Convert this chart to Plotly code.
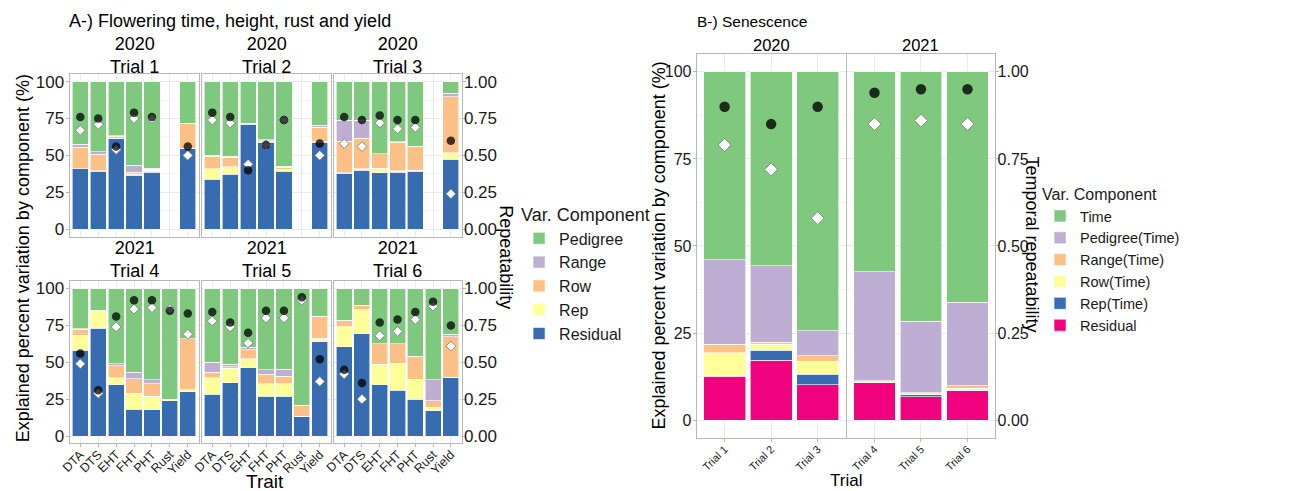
import plotly.graph_objects as go

# ---------------- data: panel A ----------------
traits = ["DTA", "DTS", "EHT", "FHT", "PHT", "Rust", "Yield"]
trials_A = ["Trial 1", "Trial 2", "Trial 3", "Trial 4", "Trial 5", "Trial 6"]
years_A = ["2020", "2020", "2020", "2021", "2021", "2021"]

residual_A = [
    [40.8, 39.2, 61.5, 36.7, 38.7, None, 54.7],
    [34.0, 37.2, 71.2, 59.0, 39.4, None, 59.0],
    [37.8, 40.1, 38.1, 38.7, 39.4, None, 47.3],
    [58.2, 72.9, 34.9, 18.3, 17.9, 23.9, 30.2],
    [28.2, 36.2, 46.3, 27.1, 27.1, 13.2, 63.8],
    [60.4, 69.4, 34.7, 30.9, 24.8, 17.0, 39.6],
]
rep_A = [
    [0.3, 0.3, 0.3, 0.5, 1.3, None, 0.3],
    [7.0, 5.1, 0.2, 0.3, 1.1, None, 0.3],
    [0.5, 0.7, 3.3, 0.9, 0.7, None, 4.5],
    [10.0, 11.7, 4.7, 10.8, 9.2, 0.7, 1.3],
    [11.4, 9.9, 6.0, 8.2, 8.2, 0.2, 2.4],
    [13.6, 16.1, 14.1, 18.5, 13.7, 2.7, 0.2],
]
row_A = [
    [14.3, 11.4, 1.2, 1.3, 0.5, None, 16.6],
    [8.5, 6.3, 0.3, 0.6, 1.6, None, 9.7],
    [21.2, 20.9, 9.7, 19.4, 15.8, None, 38.1],
    [4.3, 0.6, 8.1, 9.6, 8.2, 0.2, 34.3],
    [3.6, 0.9, 6.3, 6.5, 5.2, 7.4, 15.0],
    [4.3, 2.9, 13.8, 13.2, 15.4, 4.2, 27.5],
]
range_A = [
    [2.3, 1.6, 0.3, 4.7, 0.7, None, 0.3],
    [0.5, 0.7, 0.2, 0.7, 0.7, None, 1.3],
    [14.4, 12.2, 0.2, 0.2, 0.2, None, 2.2],
    [0.1, 0.1, 1.3, 4.7, 3.0, 0.1, 0.1],
    [6.9, 1.8, 1.6, 3.2, 4.9, 0.1, 0.1],
    [0.1, 0.1, 0.1, 0.1, 0.1, 14.4, 1.8],
]
pedigree_A = [
    [42.3, 47.5, 36.7, 56.8, 58.8, None, 28.1],
    [50.0, 50.7, 28.1, 39.4, 57.2, None, 29.7],
    [26.1, 26.1, 48.7, 40.8, 43.9, None, 7.9],
    [27.4, 14.7, 51.0, 56.6, 61.7, 75.1, 34.1],
    [49.9, 51.2, 39.8, 55.0, 54.6, 79.1, 18.7],
    [21.6, 11.5, 37.3, 37.3, 46.0, 61.7, 30.9],
]
repeat_circle_A = [
    [0.76, 0.75, 0.56, 0.79, 0.76, None, 0.56],
    [0.79, 0.76, 0.40, 0.57, 0.74, None, 0.58],
    [0.76, 0.74, 0.77, 0.74, 0.74, None, 0.60],
    [0.56, 0.31, 0.81, 0.92, 0.92, 0.85, 0.83],
    [0.84, 0.77, 0.70, 0.85, 0.85, 0.94, 0.52],
    [0.45, 0.36, 0.77, 0.79, 0.84, 0.91, 0.75],
]
repeat_diamond_A = [
    [0.67, 0.71, 0.54, 0.75, 0.75, None, 0.50],
    [0.74, 0.72, 0.44, 0.57, 0.74, None, 0.50],
    [0.58, 0.56, 0.72, 0.68, 0.69, None, 0.24],
    [0.49, 0.29, 0.74, 0.86, 0.87, 0.86, 0.69],
    [0.78, 0.74, 0.63, 0.80, 0.80, 0.92, 0.37],
    [0.42, 0.25, 0.68, 0.71, 0.79, 0.88, 0.61],
]
components_A = ["Residual", "Rep", "Row", "Range", "Pedigree"]  # bottom -> top
colors_A = ["#386CB0", "#FFFF99", "#FDC086", "#BEAED4", "#7FC97F"]
values_A = [residual_A, rep_A, row_A, range_A, pedigree_A]

# ---------------- data: panel B ----------------
trials_B = ["Trial 1", "Trial 2", "Trial 3", "Trial 4", "Trial 5", "Trial 6"]
years_B = ["2020", "2020", "2020", "2021", "2021", "2021"]
residual_B = [12.6, 17.2, 10.1, 10.7, 6.7, 8.5]
rep_B = [0.2, 2.9, 3.1, 0.1, 0.6, 0.1]
row_B = [6.6, 1.7, 3.7, 0.2, 0.2, 0.6]
range_B = [2.4, 0.6, 1.6, 0.3, 0.4, 0.6]
pedigree_B = [24.2, 21.9, 7.1, 31.3, 20.5, 24.1]
time_B = [54.0, 55.7, 74.4, 57.4, 71.6, 66.1]
repeat_circle_B = [0.90, 0.85, 0.90, 0.94, 0.95, 0.95]
repeat_diamond_B = [0.79, 0.72, 0.58, 0.85, 0.86, 0.85]
components_B = ["Residual", "Rep(Time)", "Row(Time)", "Range(Time)", "Pedigree(Time)", "Time"]
colors_B = ["#F0027F", "#386CB0", "#FFFF99", "#FDC086", "#BEAED4", "#7FC97F"]
values_B = [residual_B, rep_B, row_B, range_B, pedigree_B, time_B]

# ---------------- styling ----------------
W, H = 1307, 491
FA = "Liberation Sans, Arial, sans-serif"
FB = "Liberation Sans, Arial, sans-serif"
BORDER = "#B8B8B8"
GRID = "#EBEBEB"
MINOR = "#F5F5F5"
TXT = "#1a1a1a"


def fx(x):
    return x / W


def fy(y):
    return 1 - y / H


fig = go.Figure()
layout = dict(
    width=W, height=H, margin=dict(l=0, r=0, t=0, b=0),
    paper_bgcolor="white", plot_bgcolor="white",
    barmode="stack", showlegend=True,
)

# panel A subplot frames (pixel boxes)
colsA = [(60, 190), (193, 323), (326, 455)]
rowsA = [(73, 237), (282, 446)]

for i, trial in enumerate(trials_A):
    r, c = divmod(i, 3)
    xa, ya, yr = i + 1, i + 1, i + 7
    x0, x1 = colsA[c]
    y0, y1 = rowsA[r]
    bottom = r == 1
    layout[f"xaxis{xa}"] = dict(
        domain=[fx(x0), fx(x1)], anchor=f"y{ya}", type="category",
        categoryorder="array", categoryarray=traits, range=[-0.6, 6.6],
        showline=True, mirror=True, linecolor=BORDER, linewidth=1,
        showgrid=True, gridcolor=GRID, gridwidth=1, zeroline=False,
        ticks="outside" if bottom else "", ticklen=3, tickcolor=BORDER,
        showticklabels=bottom, tickangle=-45, ticklabelstandoff=-5,
        tickfont=dict(size=12.5, family=FA, color=TXT),
    )
    layout[f"yaxis{ya}"] = dict(
        domain=[fy(y1), fy(y0)], anchor=f"x{xa}", range=[-5, 105],
        tickvals=[0, 25, 50, 75, 100],
        showline=True, mirror=True, linecolor=BORDER, linewidth=1,
        showgrid=True, gridcolor=GRID, gridwidth=1, zeroline=False,
        minor=dict(dtick=12.5, showgrid=True, gridcolor=MINOR, gridwidth=0.6),
        ticks="outside" if c == 0 else "", ticklen=3, tickcolor=BORDER,
        ticklabelstandoff=-2,
        showticklabels=c == 0, tickfont=dict(size=17, family=FA, color=TXT),
    )
    layout[f"yaxis{yr}"] = dict(
        overlaying=f"y{ya}", anchor=f"x{xa}", side="right", range=[-0.05, 1.05],
        tickvals=[0, 0.25, 0.5, 0.75, 1.0],
        ticktext=["0.00", "0.25", "0.50", "0.75", "1.00"],
        showgrid=False, zeroline=False, showline=False,
        ticks="outside" if c == 2 else "", ticklen=3, tickcolor=BORDER,
        ticklabelstandoff=-5,
        showticklabels=c == 2, tickfont=dict(size=17, family=FA, color=TXT),
    )
    for k, comp in enumerate(components_A):
        fig.add_trace(go.Bar(
            x=traits, y=values_A[k][i], name=comp, width=0.9,
            marker=dict(color=colors_A[k], line=dict(color="white", width=0.6)),
            xaxis=f"x{xa}", yaxis=f"y{ya}", legend="legend",
            legendgroup=comp, showlegend=(i == 0), legendrank=100 - k,
            hovertemplate=f"{trial} %{{x}}<br>{comp}: %{{y}}%<extra></extra>",
        ))
    fig.add_trace(go.Scatter(
        x=traits, y=repeat_diamond_A[i], mode="markers", name="Repeatability (diamond)",
        marker=dict(symbol="diamond", size=7.5, color="white", line=dict(color="#777777", width=0.8)),
        xaxis=f"x{xa}", yaxis=f"y{yr}", showlegend=False,
    ))
    fig.add_trace(go.Scatter(
        x=traits, y=repeat_circle_A[i], mode="markers", name="Repeatability (circle)",
        marker=dict(symbol="circle", size=8.5, color="black", opacity=0.75, line=dict(width=0)),
        xaxis=f"x{xa}", yaxis=f"y{yr}", showlegend=False,
    ))

# panel B subplots
colsB = [(692, 842), (843, 993)]
rowB = (53, 440)
years_unique_B = ["2020", "2021"]
for j, yr_label in enumerate(years_unique_B):
    xa, ya, yr = 7 + j, 13 + j, 15 + j
    x0, x1 = colsB[j]
    idx = [n for n, yv in enumerate(years_B) if yv == yr_label]
    cats = [trials_B[n] for n in idx]
    layout[f"xaxis{xa}"] = dict(
        domain=[fx(x0), fx(x1)], anchor=f"y{ya}", type="category",
        categoryorder="array", categoryarray=cats, range=[-0.6, 2.6],
        showline=True, mirror=True, linecolor=BORDER, linewidth=1,
        showgrid=True, gridcolor=GRID, zeroline=False,
        ticks="outside", ticklen=3, tickcolor=BORDER, tickangle=-45,
        ticklabelstandoff=-3,
        tickfont=dict(size=11, family=FB, color=TXT),
    )
    layout[f"yaxis{ya}"] = dict(
        domain=[fy(rowB[1]), fy(rowB[0])], anchor=f"x{xa}", range=[-5, 105],
        tickvals=[0, 25, 50, 75, 100],
        showline=True, mirror=True, linecolor=BORDER, linewidth=1,
        showgrid=True, gridcolor=GRID, zeroline=False,
        minor=dict(dtick=12.5, showgrid=True, gridcolor=MINOR, gridwidth=0.6),
        ticks="outside" if j == 0 else "", ticklen=3, tickcolor=BORDER,
        ticklabelstandoff=-2,
        showticklabels=j == 0, tickfont=dict(size=16, family=FB, color=TXT),
    )
    layout[f"yaxis{yr}"] = dict(
        overlaying=f"y{ya}", anchor=f"x{xa}", side="right", range=[-0.05, 1.05],
        tickvals=[0, 0.25, 0.5, 0.75, 1.0],
        ticktext=["0.00", "0.25", "0.50", "0.75", "1.00"],
        showgrid=False, zeroline=False, showline=False,
        ticks="outside" if j == 1 else "", ticklen=3, tickcolor=BORDER,
        ticklabelstandoff=-5,
        showticklabels=j == 1, tickfont=dict(size=16, family=FB, color=TXT),
    )
    for k, comp in enumerate(components_B):
        fig.add_trace(go.Bar(
            x=cats, y=[values_B[k][n] for n in idx], name=comp, width=0.9,
            marker=dict(color=colors_B[k], line=dict(color="white", width=0.6)),
            xaxis=f"x{xa}", yaxis=f"y{ya}", legend="legend2",
            legendgroup="B" + comp, showlegend=(j == 0), legendrank=100 - k,
            hovertemplate=f"%{{x}}<br>{comp}: %{{y}}%<extra></extra>",
        ))
    fig.add_trace(go.Scatter(
        x=cats, y=[repeat_diamond_B[n] for n in idx], mode="markers",
        name="Temporal repeatability (diamond)",
        marker=dict(symbol="diamond", size=10, color="white", line=dict(color="#777777", width=0.8)),
        xaxis=f"x{xa}", yaxis=f"y{yr}", showlegend=False,
    ))
    fig.add_trace(go.Scatter(
        x=cats, y=[repeat_circle_B[n] for n in idx], mode="markers",
        name="Temporal repeatability (circle)",
        marker=dict(symbol="circle", size=10.5, color="black", opacity=0.78, line=dict(width=0)),
        xaxis=f"x{xa}", yaxis=f"y{yr}", showlegend=False,
    ))

# legends
layout["legend"] = dict(
    x=fx(513), y=fy(198), xanchor="left", yanchor="top",
    title=dict(text="Var. Component", font=dict(size=18, family=FA, color=TXT)),
    font=dict(size=16, family=FA, color=TXT), bgcolor="rgba(0,0,0,0)",
    itemwidth=30, tracegroupgap=0,
)
layout["legend2"] = dict(
    x=fx(1038), y=fy(179), xanchor="left", yanchor="top",
    title=dict(text="Var. Component", font=dict(size=16, family=FB, color=TXT)),
    font=dict(size=14.5, family=FB, color=TXT), bgcolor="rgba(0,0,0,0)",
    itemwidth=30, tracegroupgap=0,
)

# text annotations
annotations = []


def ann(text, x, y, size, family, angle=0, xanchor="center", yanchor="middle"):
    annotations.append(dict(
        text=text, x=fx(x), y=fy(y), xref="paper", yref="paper", showarrow=False,
        textangle=angle, xanchor=xanchor, yanchor=yanchor,
        font=dict(size=size, family=family, color="black"),
    ))


ann("A-) Flowering time, height, rust and yield", 57, 19, 18, FA, xanchor="left")
ann("B-) Senescence", 690, 20, 15.5, FB, xanchor="left")
for i, trial in enumerate(trials_A):
    r, c = divmod(i, 3)
    x0, x1 = colsA[c]
    ann(f"{years_A[i]}<br>{trial}", (x0 + x1) / 2, 54 if r == 0 else 260, 18, FA)
for j, yr_label in enumerate(years_unique_B):
    x0, x1 = colsB[j]
    ann(yr_label, (x0 + x1) / 2, 43, 16.5, FB)
ann("Explained percent variation by component (%)", 13, 259, 18, FA, angle=-90)
ann("Repeatability", 499, 258, 18, FA, angle=90)
ann("Trait", 257, 484, 19, FA)
ann("Explained percent variation by component (%)", 655, 246, 18, FA, angle=-90)
ann("Temporal repeatability", 1030, 245, 18, FA, angle=90)
ann("Trial", 842, 483, 17, FB)
layout["annotations"] = annotations

fig.update_layout(**layout)
fig.write_html("out.html")
